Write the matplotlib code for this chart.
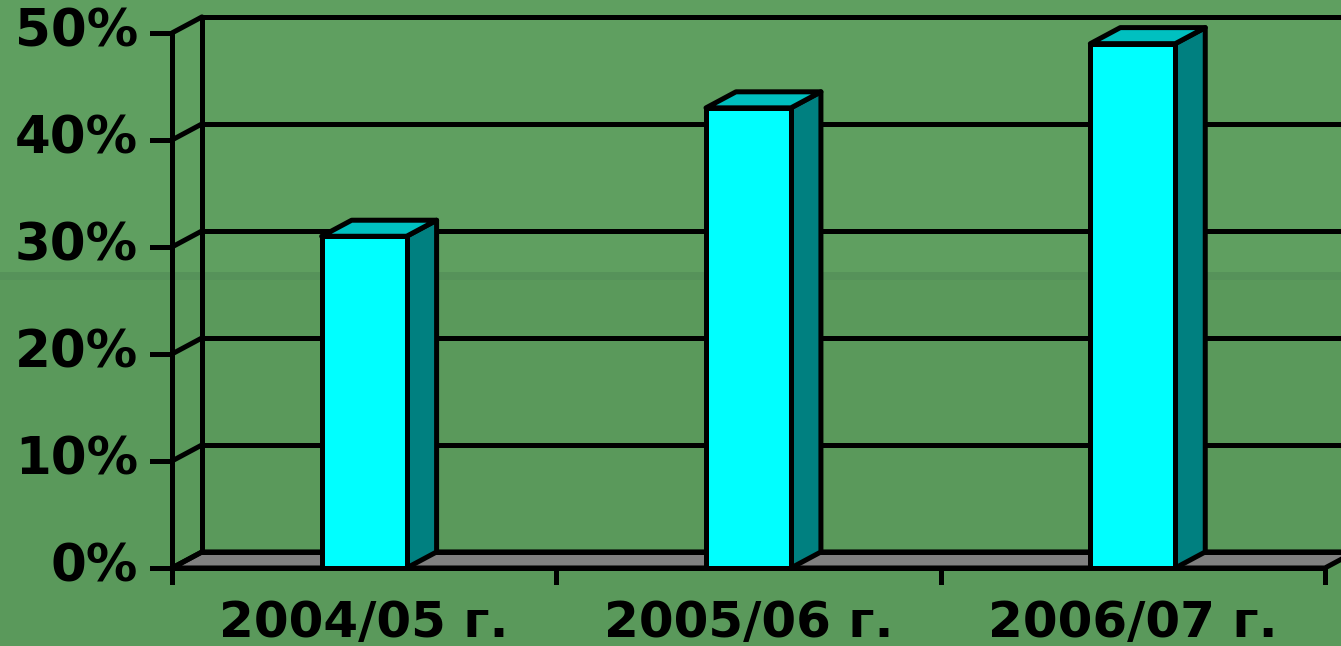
import matplotlib
matplotlib.use("Agg")
import matplotlib.pyplot as plt
from matplotlib.patches import Polygon, Rectangle

# data
categories = ["2004/05 г.", "2005/06 г.", "2006/07 г."]
values = [31, 43, 49]
y_ticks = [0, 10, 20, 30, 40, 50]
y_labels = ["0%", "10%", "20%", "30%", "40%", "50%"]

# look
BG_TOP = "#5f9f60"
BG_BAND = "#56925a"
BG_BOTTOM = "#5a995b"
FRONT = "#00ffff"
SIDE = "#008080"
TOP = "#00c0c0"
FLOOR = "#808080"
LW = 3.6

# pseudo 3d depth (category units, percent units)
dx, dy = 0.078, 1.5
bar_w = 0.221

fig = plt.figure(figsize=(13.41, 6.46), dpi=100)
fig.patch.set_facecolor(BG_BOTTOM)
fig.patches.append(Rectangle((0, 0.579), 1, 0.421, transform=fig.transFigure,
                             facecolor=BG_TOP, edgecolor="none", zorder=-10))
fig.patches.append(Rectangle((0, 0.567), 1, 0.012, transform=fig.transFigure,
                             facecolor=BG_BAND, edgecolor="none", zorder=-10))

ax = fig.add_axes([0, 0, 1, 1])
ax.set_facecolor("none")
ax.set_xlim(-0.4475, 3.0417)
ax.set_ylim(-7.29, 53.08)
ax.axis("off")

n = len(categories)

# floor
floor = Polygon([(0, 0), (n, 0), (n + dx, dy), (dx, dy)], closed=True,
                facecolor=FLOOR, edgecolor="black", lw=LW, joinstyle="round", zorder=1)
ax.add_patch(floor)

# back wall: left edge and gridlines
ax.plot([dx, dx], [dy, 50 + dy], color="black", lw=LW, zorder=2)
for t in y_ticks:
    ax.plot([dx, 3.2], [t + dy, t + dy], color="black", lw=LW, zorder=2)
    ax.plot([0, dx], [t, t + dy], color="black", lw=LW, zorder=2, solid_capstyle="round")
    ax.plot([-0.052, 0], [t, t], color="black", lw=LW, zorder=2)

# front axis line
ax.plot([0, 0], [-1.3, 50], color="black", lw=LW, zorder=3)
ax.plot([0, n], [0, 0], color="black", lw=LW, zorder=3)
for i in range(n + 1):
    ax.plot([i, i], [0, -1.3], color="black", lw=LW, zorder=3)

# bars
for i, v in enumerate(values):
    c = i + 0.5
    l, r = c - bar_w / 2, c + bar_w / 2
    side = Polygon([(r, 0), (r + dx, dy), (r + dx, v + dy), (r, v)], closed=True,
                   facecolor=SIDE, edgecolor="black", lw=LW, joinstyle="round", zorder=5)
    top = Polygon([(l, v), (l + dx, v + dy), (r + dx, v + dy), (r, v)], closed=True,
                  facecolor=TOP, edgecolor="black", lw=LW, joinstyle="round", zorder=5)
    front = Rectangle((l, 0), bar_w, v, facecolor=FRONT, edgecolor="black",
                      lw=LW, joinstyle="round", zorder=6)
    ax.add_patch(side)
    ax.add_patch(top)
    ax.add_patch(front)
    ax.text(c, -5.1, categories[i], ha="center", va="center", fontsize=36,
            fontweight="bold", family="DejaVu Sans", color="black")

for t, lab in zip(y_ticks, y_labels):
    ax.text(-0.088, t, lab, ha="right", va="center", fontsize=37,
            fontweight="bold", family="DejaVu Sans", color="black")

fig.savefig("out.png", dpi=100, facecolor=fig.get_facecolor())
